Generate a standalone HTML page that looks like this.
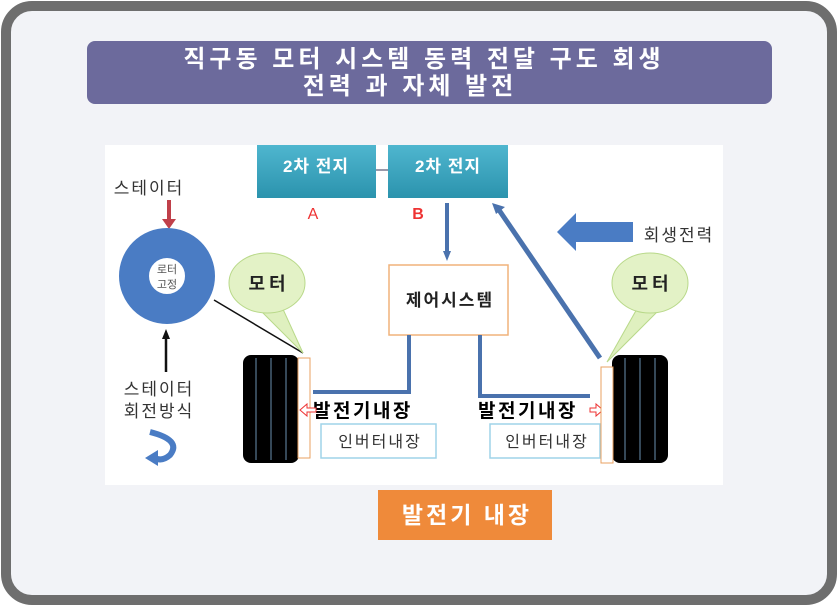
<!DOCTYPE html>
<html><head><meta charset="utf-8"><style>
html,body{margin:0;padding:0;width:838px;height:606px;overflow:hidden;background:#fff}
svg text{font-family:"Liberation Sans","Noto Sans CJK KR","NanumGothic",sans-serif}
</style></head><body>
<svg width="838" height="606" viewBox="0 0 838 606" xmlns="http://www.w3.org/2000/svg">
<defs>
<linearGradient id="tg" x1="0" y1="0" x2="0" y2="1"><stop offset="0" stop-color="#4fb6cf"/><stop offset="1" stop-color="#2b93ad"/></linearGradient>
<marker id="ah" markerUnits="userSpaceOnUse" markerWidth="10" markerHeight="10" refX="5" refY="5" orient="auto"><path d="M0,1 L10,5 L0,9z" fill="#4a72ad"/></marker>
<marker id="ak" markerUnits="userSpaceOnUse" markerWidth="10" markerHeight="10" refX="5" refY="5" orient="auto"><path d="M0,1 L10,5 L0,9z" fill="#111"/></marker>
</defs>
<rect x="0" y="0" width="838" height="606" fill="#fff"/>
<rect x="6" y="6" width="826" height="594" rx="26" fill="#f2f3f7" stroke="#6e6e6e" stroke-width="10"/>
<rect x="87" y="41" width="685" height="63" rx="8" fill="#6c6a9c"/>
<text x="424" y="67" text-anchor="middle" font-size="24" font-weight="bold" letter-spacing="4" fill="#fff">직구동 모터 시스템 동력 전달 구도 회생</text>
<text x="410" y="94" text-anchor="middle" font-size="24" font-weight="bold" letter-spacing="4" fill="#fff">전력 과 자체 발전</text>
<rect x="105" y="145" width="618" height="340" fill="#fff"/>
<!-- batteries -->
<rect x="257" y="145" width="119" height="53" fill="url(#tg)"/>
<rect x="388" y="145" width="120" height="53" fill="url(#tg)"/>
<text x="316" y="172" text-anchor="middle" font-size="17" font-weight="bold" letter-spacing="1" fill="#fff">2차 전지</text>
<text x="448" y="172" text-anchor="middle" font-size="17" font-weight="bold" letter-spacing="1" fill="#fff">2차 전지</text>
<line x1="376" y1="170" x2="388" y2="170" stroke="#335" stroke-width="1"/>
<text x="313" y="219" text-anchor="middle" font-size="16" fill="#e33">A</text>
<text x="418" y="219" text-anchor="middle" font-size="16" font-weight="bold" fill="#e33" font-family="Liberation Serif">B</text>
<!-- left stator -->
<text x="149" y="194" text-anchor="middle" font-size="17" letter-spacing="2" fill="#333">스테이터</text>
<line x1="169" y1="200" x2="169" y2="220" stroke="#c0404a" stroke-width="4"/>
<path d="M162,219 L176,219 L169,229z" fill="#c0404a"/>
<circle cx="167" cy="276" r="33" fill="none" stroke="#4a7cc4" stroke-width="30"/>
<text x="167" y="273" text-anchor="middle" font-size="11" fill="#555">로터</text>
<text x="167" y="288" text-anchor="middle" font-size="11" fill="#555">고정</text>
<line x1="166" y1="372" x2="166" y2="334" stroke="#111" stroke-width="2.5" marker-end="url(#ak)"/>
<text x="159" y="395" text-anchor="middle" font-size="17" letter-spacing="2" fill="#333">스테이터</text>
<text x="159" y="417" text-anchor="middle" font-size="17" letter-spacing="2" fill="#333">회전방식</text>
<path d="M150,432 Q182,440 170,455 Q162,462 155,458" fill="none" stroke="#4a7cc4" stroke-width="6"/>
<path d="M145,458 L158,450 L158,466z" fill="#4a7cc4"/>
<!-- left tire -->
<line x1="214" y1="300" x2="303" y2="353" stroke="#111" stroke-width="1.5"/>
<rect x="243" y="355" width="56" height="108" rx="8" fill="#000"/>
<line x1="256" y1="358" x2="256" y2="460" stroke="#6a8fb0" stroke-width="1"/>
<line x1="271" y1="358" x2="271" y2="460" stroke="#6a8fb0" stroke-width="1"/>
<line x1="286" y1="358" x2="286" y2="460" stroke="#6a8fb0" stroke-width="1"/>
<rect x="298" y="358" width="12" height="100" fill="#fff" stroke="#e8a060" stroke-width="1"/>
<path d="M255,305 L303,353 L282,307z" fill="#dff0bf" stroke="#b9d98a"/>
<ellipse cx="267" cy="283" rx="38" ry="30" fill="#e3f2c6" stroke="#b9d98a"/>
<text x="269" y="290" text-anchor="middle" font-size="18" font-weight="bold" letter-spacing="4" fill="#222">모터</text>
<!-- control -->
<line x1="447" y1="203" x2="447" y2="256" stroke="#4a72ad" stroke-width="4" marker-end="url(#ah)"/>
<rect x="389" y="265" width="119" height="70" fill="#fff" stroke="#f0b27a" stroke-width="1.5"/>
<text x="450" y="306" text-anchor="middle" font-size="17" font-weight="bold" letter-spacing="2" fill="#222">제어시스템</text>
<polyline points="409,335 409,392 313,392" fill="none" stroke="#4a72ad" stroke-width="4"/>
<polyline points="480,335 480,396 590,396" fill="none" stroke="#4a72ad" stroke-width="4"/>
<text x="313" y="417" font-size="19" font-weight="bold" letter-spacing="2.5" fill="#000">발전기내장</text>
<path d="M300,410 L307,404 L307,408 L316,408 L316,412 L307,412 L307,416z" fill="#fff" stroke="#e33" stroke-width="1"/>
<text x="478" y="417" font-size="19" font-weight="bold" letter-spacing="2.5" fill="#000">발전기내장</text>
<path d="M603,410 L596,404 L596,408 L590,408 L590,412 L596,412 L596,416z" fill="#fff" stroke="#e33" stroke-width="1"/>
<rect x="321" y="424" width="115" height="34" fill="#fff" stroke="#9fd3e8" stroke-width="1.5"/>
<text x="380" y="447" text-anchor="middle" font-size="16" letter-spacing="2" fill="#333">인버터내장</text>
<rect x="490" y="424" width="110" height="34" fill="#fff" stroke="#9fd3e8" stroke-width="1.5"/>
<text x="547" y="447" text-anchor="middle" font-size="16" letter-spacing="2" fill="#333">인버터내장</text>
<!-- right tire -->
<line x1="600" y1="358" x2="499" y2="210" stroke="#4a72ad" stroke-width="5"/>
<path d="M492,203 L505,207 L496,214z" fill="#4a72ad"/>
<rect x="612" y="355" width="56" height="108" rx="8" fill="#000"/>
<line x1="625" y1="358" x2="625" y2="460" stroke="#6a8fb0" stroke-width="1"/>
<line x1="640" y1="358" x2="640" y2="460" stroke="#6a8fb0" stroke-width="1"/>
<line x1="655" y1="358" x2="655" y2="460" stroke="#6a8fb0" stroke-width="1"/>
<rect x="601" y="367" width="12" height="96" fill="#fff" stroke="#e8a060" stroke-width="1"/>
<path d="M638,307 L607,362 L662,307z" fill="#dff0bf" stroke="#b9d98a"/>
<ellipse cx="650" cy="283" rx="38" ry="30" fill="#e3f2c6" stroke="#b9d98a"/>
<text x="652" y="290" text-anchor="middle" font-size="18" font-weight="bold" letter-spacing="4" fill="#222">모터</text>
<path d="M557,232 L576,213 L576,222 L633,222 L633,242 L576,242 L576,251z" fill="#4a7cc4"/>
<text x="679" y="241" text-anchor="middle" font-size="17" letter-spacing="2" fill="#333">회생전력</text>
<!-- orange label -->
<rect x="378" y="490" width="174" height="50" fill="#ef8a3a"/>
<text x="467" y="523" text-anchor="middle" font-size="23" font-weight="bold" letter-spacing="3" fill="#fff">발전기 내장</text>
</svg>
</body></html>
